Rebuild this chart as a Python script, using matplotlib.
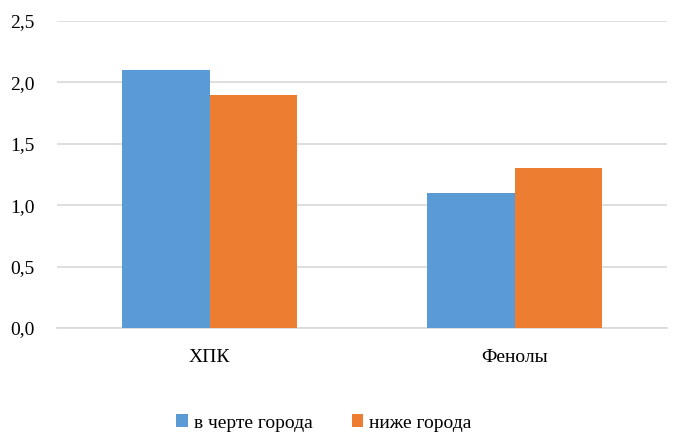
import matplotlib.pyplot as plt
import numpy as np

plt.rcParams["font.family"] = ["Liberation Serif", "DejaVu Serif"]

categories = ["ХПК", "Фенолы"]
series_names = ["в черте города", "ниже города"]
in_city = [2.1, 1.1]
below_city = [1.9, 1.3]
yticks = [0.0, 0.5, 1.0, 1.5, 2.0, 2.5]

colors = ["#5B9BD5", "#ED7D31"]

fig = plt.figure(figsize=(6.75, 4.44), dpi=100)
ax = fig.add_axes([57 / 675, 1 - 328 / 444, 610 / 675, 307 / 444])

x = np.arange(len(categories))
w = 0.287
ax.bar(x - w / 2, in_city, w, color=colors[0], label=series_names[0], zorder=3)
ax.bar(x + w / 2, below_city, w, color=colors[1], label=series_names[1], zorder=3)

ax.set_xlim(-0.5, len(categories) - 0.5)
ax.set_ylim(0, 2.5)
ax.set_yticks(yticks)
ax.set_yticklabels([f"{v:.1f}".replace(".", ",") for v in yticks])
ax.set_xticks(x)
ax.set_xticklabels(categories)
ax.tick_params(axis="both", length=0, labelsize=14, colors="black")
ax.tick_params(axis="y", pad=16)
ax.tick_params(axis="x", pad=15)
ax.grid(axis="y", color="#D9D9D9", linewidth=1.2, zorder=0)
for s in ["top", "right", "left"]:
    ax.spines[s].set_visible(False)
ax.spines["bottom"].set_color("#D9D9D9")
ax.spines["bottom"].set_linewidth(1.2)

fig.legend(loc="center", bbox_to_anchor=(0.48, 1 - 423 / 444), ncol=2,
           frameon=False, fontsize=14, handlelength=0.6, handleheight=0.6,
           handletextpad=0.3, columnspacing=2.0)

fig.savefig("out.png", dpi=100)
